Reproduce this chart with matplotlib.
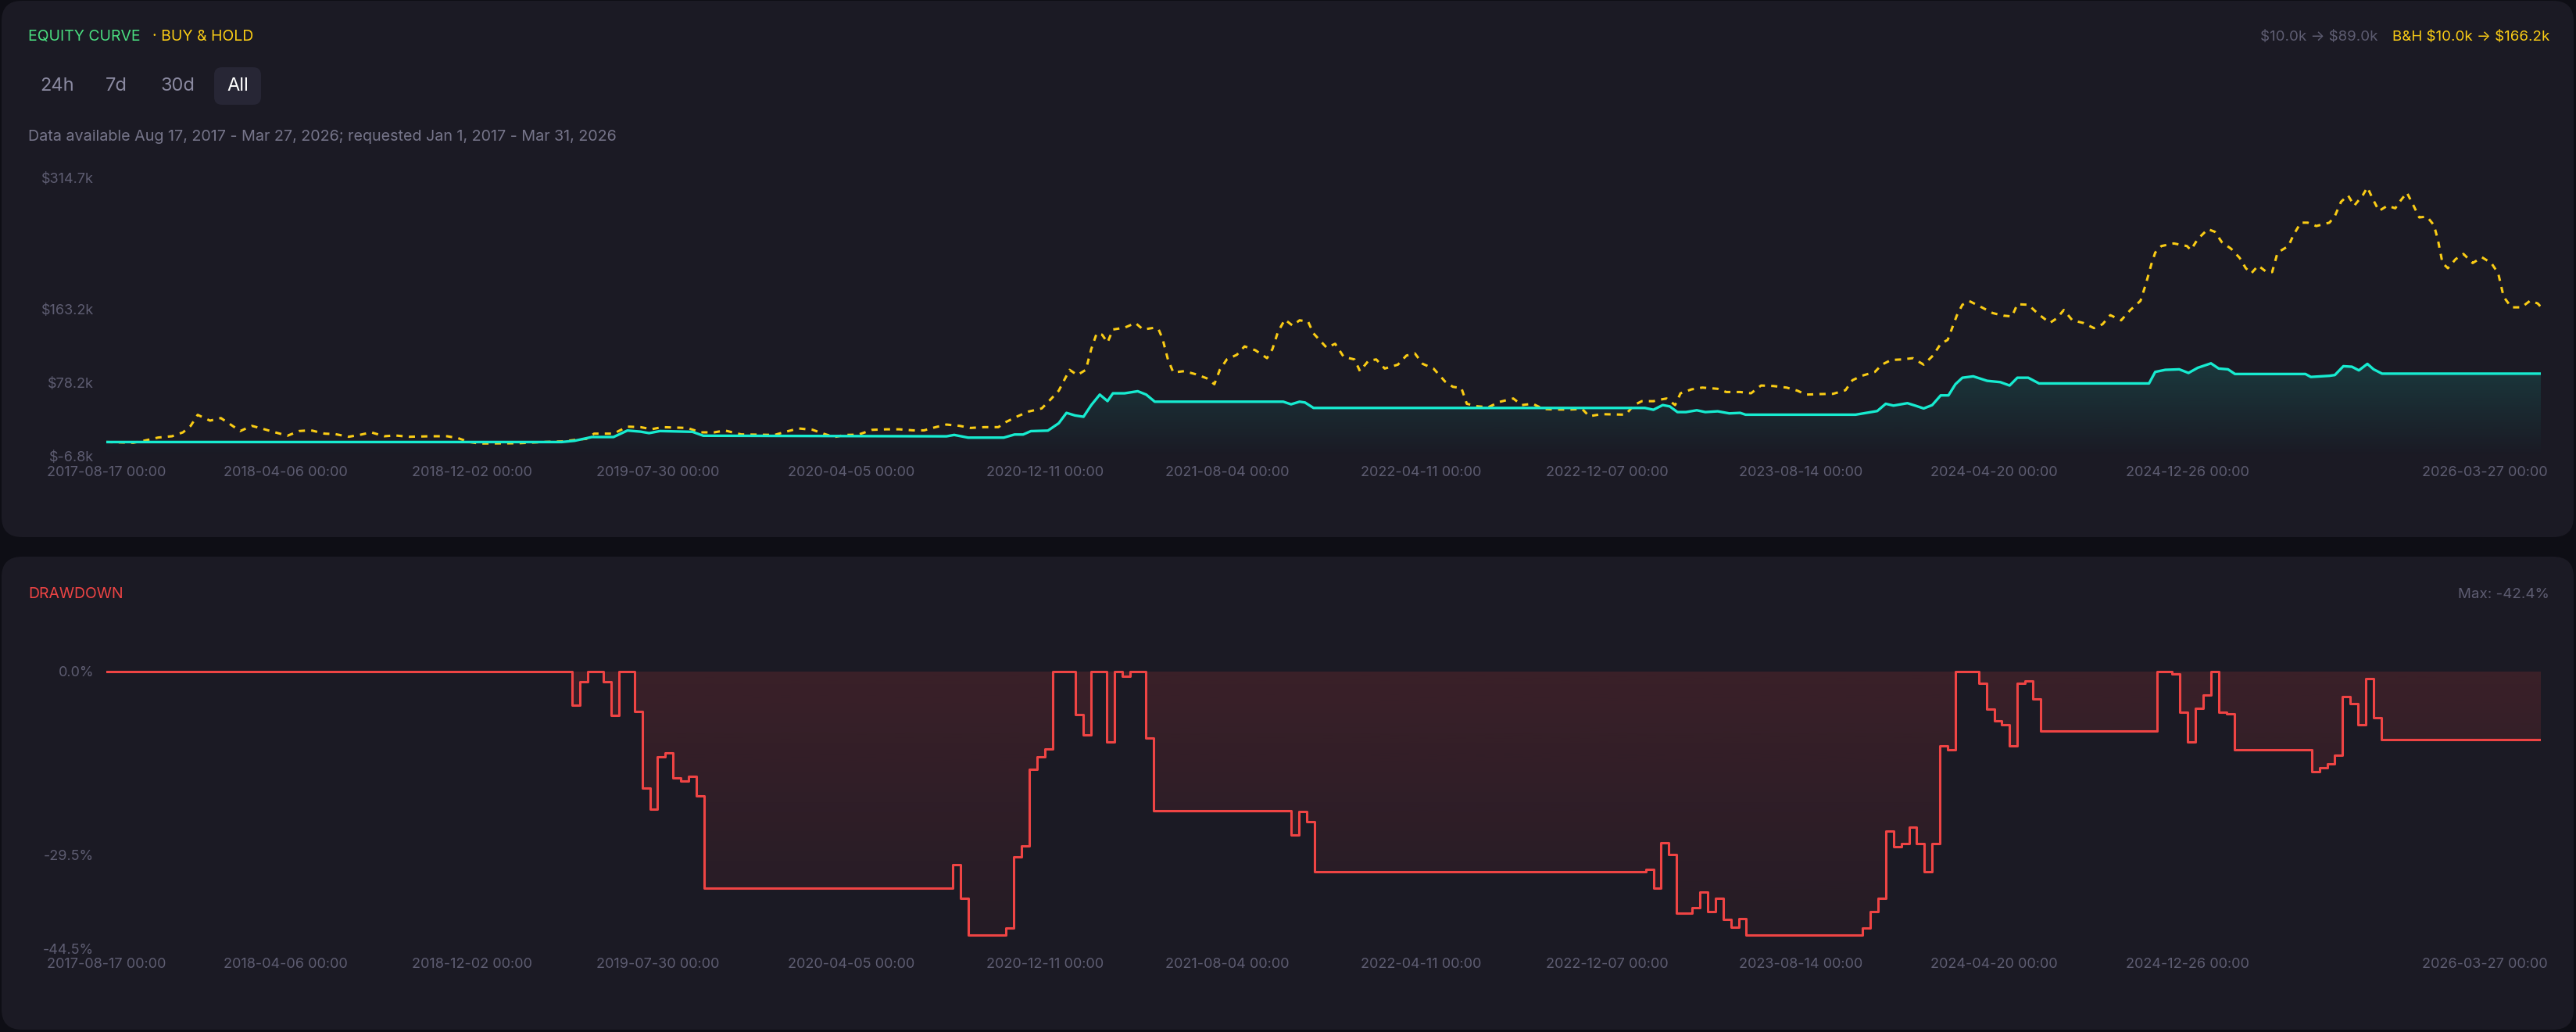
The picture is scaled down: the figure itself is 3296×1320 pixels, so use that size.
import numpy as np
import matplotlib
matplotlib.use("Agg")
import matplotlib.pyplot as plt
import matplotlib.dates as mdates
from matplotlib.patches import FancyBboxPatch
from matplotlib.transforms import IdentityTransform, ScaledTranslation
from matplotlib.colors import to_rgb

plt.rcParams['font.family'] = ['Inter', 'DejaVu Sans']
plt.rcParams['text.parse_math'] = False

# ---- data (days counted from the first available date) ----
start_date = '2017-08-17'
tick_dates = ['2017-08-17', '2018-04-06', '2018-12-02', '2019-07-30', '2020-04-05',
              '2020-12-11', '2021-08-04', '2022-04-11', '2022-12-07', '2023-08-14',
              '2024-04-20', '2024-12-26', '2026-03-27']

eq_days = [0, 588, 605, 627, 655, 673, 690, 701, 715, 757, 771, 1085, 1095, 1113, 1159,
           1173, 1184, 1194, 1216, 1230, 1240, 1251, 1262, 1272, 1283, 1293, 1300, 1315,
           1332, 1343, 1354, 1520, 1530, 1541, 1548, 1559, 1987, 1998, 2010, 2019, 2029,
           2040, 2054, 2065, 2081, 2096, 2110, 2117, 2259, 2273, 2287, 2298, 2308, 2326,
           2337, 2347, 2358, 2369, 2379, 2388, 2397, 2411, 2429, 2446, 2458, 2468, 2482,
           2496, 2638, 2646, 2659, 2677, 2689, 2701, 2718, 2728, 2740, 2749, 2840, 2847,
           2871, 2878, 2889, 2900, 2909, 2920, 2928, 2939, 3144]
eq_vals = [10.0, 10.0, 11.5, 15.8, 15.8, 23.3, 22.0, 20.3, 22.7, 21.8, 17.3, 16.6, 18.2,
           15.1, 15.1, 18.7, 18.7, 22.6, 23.2, 31.7, 43.7, 40.7, 39.2, 52.7, 64.8, 57.3,
           66.3, 66.3, 68.7, 64.8, 56.6, 56.6, 53.6, 56.6, 55.7, 49.4, 49.4, 47.3, 52.7,
           51.2, 44.6, 44.6, 46.7, 44.6, 45.5, 43.1, 43.7, 41.6, 41.6, 43.7, 45.8, 54.2,
           52.1, 54.9, 51.8, 48.8, 52.7, 63.9, 63.9, 76.8, 84.3, 85.9, 80.7, 79.2, 75.3,
           84.3, 84.3, 77.7, 77.7, 91.0, 93.4, 94.0, 89.8, 95.8, 100.9, 94.9, 94.0, 88.6,
           88.6, 85.2, 86.5, 87.4, 97.6, 97.0, 92.8, 100.3, 94.0, 89.0, 89.0]

bh_days = [0, 35, 49, 67, 85, 99, 109, 118, 134, 148, 173, 188, 204, 218, 234, 249, 264,
           282, 296, 313, 327, 342, 359, 373, 391, 419, 440, 454, 468, 482, 532, 567, 588,
           609, 620, 630, 655, 673, 690, 704, 718, 750, 768, 785, 799, 820, 863, 877, 894,
           912, 926, 940, 954, 971, 989, 1007, 1024, 1042, 1056, 1071, 1085, 1102, 1116,
           1134, 1152, 1162, 1177, 1191, 1208, 1219, 1230, 1237, 1244, 1254, 1265, 1272,
           1279, 1286, 1293, 1300, 1315, 1329, 1339, 1354, 1359, 1364, 1371, 1378, 1392,
           1407, 1421, 1431, 1438, 1447, 1460, 1470, 1484, 1499, 1506, 1513, 1522, 1532,
           1541, 1552, 1559, 1576, 1587, 1598, 1612, 1619, 1630, 1640, 1651, 1668, 1679,
           1690, 1700, 1714, 1729, 1739, 1750, 1757, 1771, 1785, 1799, 1817, 1828, 1842,
           1856, 1870, 1891, 1906, 1915, 1931, 1962, 1973, 1983, 1998, 2005, 2015, 2026,
           2033, 2047, 2061, 2081, 2092, 2110, 2124, 2137, 2153, 2170, 2184, 2195, 2213,
           2230, 2246, 2255, 2267, 2284, 2293, 2305, 2319, 2333, 2347, 2359, 2369, 2378,
           2383, 2390, 2397, 2406, 2422, 2436, 2450, 2461, 2468, 2482, 2496, 2510, 2519,
           2528, 2539, 2553, 2567, 2578, 2588, 2602, 2614, 2627, 2634, 2641, 2646, 2654,
           2670, 2687, 2692, 2701, 2714, 2723, 2732, 2744, 2755, 2763, 2770, 2779, 2790,
           2797, 2804, 2818, 2825, 2834, 2843, 2854, 2871, 2878, 2886, 2895, 2903, 2914,
           2920, 2928, 2935, 2946, 2956, 2963, 2971, 2978, 2987, 2997, 3006, 3011, 3017,
           3024, 3034, 3044, 3056, 3068, 3080, 3089, 3096, 3106, 3119, 3130, 3140, 3144]
bh_vals = [10.0, 9.2, 11.6, 15.2, 16.7, 21.2, 28.7, 41.4, 34.7, 37.7, 22.7, 28.7, 24.8,
           21.2, 17.3, 22.7, 23.6, 19.7, 19.1, 16.1, 18.2, 21.2, 16.7, 17.6, 16.1, 16.7,
           16.7, 14.6, 10.1, 8.3, 8.6, 10.1, 10.7, 12.8, 13.7, 19.7, 19.7, 27.8, 27.2,
           24.8, 27.2, 26.3, 21.2, 21.2, 23.3, 18.8, 18.2, 21.8, 25.7, 24.2, 19.7, 15.8,
           18.2, 18.5, 24.1, 24.7, 24.7, 23.5, 23.5, 27.2, 30.2, 28.7, 26.3, 27.2, 27.2,
           33.2, 39.8, 45.2, 48.8, 58.8, 69.3, 81.3, 93.4, 87.4, 93.4, 117.4, 135.5, 134.0,
           125.0, 140.0, 142.1, 147.5, 140.0, 142.1, 140.0, 129.5, 105.4, 90.4, 91.9,
           88.3, 83.7, 76.8, 93.4, 105.4, 110.8, 120.5, 116.0, 106.9, 117.4, 137.0, 151.5,
           144.5, 150.6, 149.1, 135.5, 119.0, 123.5, 108.4, 105.4, 91.9, 103.9, 105.4,
           94.9, 99.4, 109.9, 112.3, 100.3, 94.9, 79.8, 73.8, 72.3, 54.2, 51.2, 50.3,
           56.3, 60.3, 52.7, 54.2, 48.2, 47.6, 47.6, 48.2, 39.8, 42.2, 41.6, 52.7, 57.2,
           57.2, 58.7, 60.3, 52.7, 66.3, 70.8, 72.9, 71.5, 67.8, 67.8, 66.3, 75.3, 74.7,
           72.9, 69.3, 64.8, 65.4, 65.7, 69.9, 81.4, 86.5, 91.0, 99.4, 104.8, 105.4,
           106.9, 99.4, 109.9, 123.5, 128.0, 140.0, 156.6, 168.6, 172.8, 165.6, 159.0,
           156.0, 155.1, 169.2, 168.6, 157.2, 147.6, 153.0, 162.6, 150.6, 147.6, 141.6,
           146.1, 156.6, 150.6, 162.6, 173.1, 192.7, 215.3, 228.8, 236.4, 239.4, 236.4,
           231.8, 244.5, 255.9, 252.9, 240.9, 233.3, 222.8, 210.8, 204.8, 213.8, 206.3,
           206.3, 228.8, 236.4, 249.9, 263.4, 263.4, 259.5, 263.4, 271.0, 287.5, 295.0,
           283.0, 295.0, 304.1, 289.0, 277.0, 283.0, 280.0, 289.0, 298.1, 286.0, 269.5,
           270.4, 260.4, 243.9, 216.8, 210.8, 221.3, 227.3, 216.8, 223.4, 216.8, 204.8,
           177.7, 165.6, 165.6, 173.1, 170.1, 166.2]

dd_days = [0, 602, 612, 622, 642, 652, 662, 682, 692, 702, 712, 722, 732, 742, 752, 762,
           772, 1093, 1103, 1113, 1162, 1172, 1182, 1192, 1202, 1212, 1222, 1252, 1262,
           1272, 1292, 1302, 1312, 1322, 1342, 1352, 1530, 1540, 1550, 1560, 1988, 1998,
           2008, 2018, 2028, 2048, 2058, 2068, 2078, 2088, 2098, 2108, 2118, 2268, 2278,
           2288, 2298, 2308, 2318, 2328, 2338, 2348, 2358, 2368, 2378, 2388, 2418, 2428,
           2438, 2448, 2458, 2468, 2478, 2488, 2498, 2648, 2668, 2678, 2688, 2698, 2708,
           2718, 2728, 2738, 2748, 2848, 2858, 2868, 2878, 2888, 2898, 2908, 2918, 2928,
           2938, 3144]
dd_vals = [0.0, -5.4, -1.6, 0.0, -1.7, -7.1, 0.0, -6.4, -18.8, -22.2, -13.7, -13.1, -17.1,
           -17.6, -16.9, -20.0, -34.8, -31.0, -36.4, -42.4, -41.2, -29.8, -28.1, -15.7,
           -13.7, -12.5, 0.0, -7.0, -10.2, 0.0, -11.3, 0.0, -0.8, 0.0, -10.7, -22.4, -26.3,
           -22.5, -24.2, -32.2, -31.8, -34.8, -27.5, -29.4, -38.9, -38.0, -35.5, -38.6,
           -36.4, -39.9, -41.1, -39.7, -42.4, -41.2, -38.6, -36.4, -25.6, -28.2, -27.7,
           -25.0, -27.7, -32.2, -27.7, -12.0, -12.6, 0.0, -1.9, -6.0, -8.0, -8.6, -12.0,
           -1.9, -1.5, -4.4, -9.6, 0.0, -0.4, -6.5, -11.3, -5.9, -3.8, 0.0, -6.6, -6.8,
           -12.6, -16.1, -15.5, -14.9, -13.5, -4.0, -5.2, -8.6, -1.2, -7.5, -10.9, -10.9]

eq_ticks = [-6.8, 78.2, 163.2, 314.7]
dd_ticks = [0.0, -29.5, -44.5]

# ---- colours ----
BG = '#0e0e15'
CARD = '#1b1a24'
TEAL = '#17ebd0'
YELLOW = '#facc15'
RED = '#ef4444'
GREEN = '#4ade80'
MUTED = '#5e5d72'

W, H = 3296, 1320
fig = plt.figure(figsize=(W / 100, H / 100), dpi=100, facecolor=BG)


def fx(x):
    return x / W


def fy(y):
    return 1 - y / H


def card(top, bottom, left=2, right=3293, r=26, color=CARD):
    fig.patches.append(FancyBboxPatch((left, H - bottom), right - left, bottom - top,
                                      boxstyle="round,pad=0,rounding_size=%d" % r,
                                      transform=IdentityTransform(), facecolor=color,
                                      edgecolor='none', zorder=-5))


card(1, 687)
card(712, 1317)
card(86, 134, left=274, right=334, r=10, color='#272635')

to_dates = lambda d: np.datetime64(start_date) + np.array(d, dtype='timedelta64[D]')
eq_x = to_dates(eq_days)
bh_x = to_dates(bh_days)
dd_x = to_dates(dd_days)
tick_x = np.array(tick_dates, dtype='datetime64[D]')
x0, x1 = tick_x[0], tick_x[-1]


def gradient(ax, poly, y_top, y_bot, color, a_top, a_bot):
    n = 256
    rgba = np.zeros((n, 1, 4))
    rgba[..., :3] = to_rgb(color)
    rgba[:, 0, 3] = np.linspace(a_top, a_bot, n)
    im = ax.imshow(rgba, aspect='auto', origin='upper', zorder=1,
                   extent=[mdates.date2num(x0), mdates.date2num(x1), y_bot, y_top])
    im.set_clip_path(poly.get_paths()[0], transform=ax.transData)


def style(ax, ylo, yhi, ticks, labels):
    ax.set_facecolor('none')
    for s in ax.spines.values():
        s.set_visible(False)
    ax.set_xlim(x0, x1)
    ax.set_ylim(ylo, yhi)
    ax.set_yticks(ticks)
    ax.set_yticklabels(labels)
    ax.set_xticks(tick_x)
    ax.set_xticklabels([t + ' 00:00' for t in tick_dates])
    ax.tick_params(length=0, colors=MUTED, labelsize=13)
    ax.tick_params(axis='y', pad=11.5)
    ax.tick_params(axis='x', pad=8.5)
    last = ax.get_xticklabels()[-1]
    last.set_horizontalalignment('right')
    last.set_transform(last.get_transform() + ScaledTranslation(0.09, 0, fig.dpi_scale_trans))


# ---- equity curve ----
ax1 = fig.add_axes([fx(136), fy(584), fx(3251 - 136), (584 - 228) / H])
poly = ax1.fill_between(eq_x, eq_vals, eq_ticks[0], facecolor='none', edgecolor='none')
gradient(ax1, poly, max(eq_vals), eq_ticks[0], TEAL, 0.15, 0.0)
ax1.plot(bh_x, bh_vals, color=YELLOW, lw=2.2, dashes=(2.6, 2.6), zorder=3)
ax1.plot(eq_x, eq_vals, color=TEAL, lw=2.4, zorder=4)
style(ax1, eq_ticks[0], eq_ticks[-1], eq_ticks, ['$%.1fk' % v for v in eq_ticks])

# ---- drawdown ----
ax2 = fig.add_axes([fx(136), fy(1213), fx(3251 - 136), (1213 - 854) / H])
poly = ax2.fill_between(dd_x, dd_vals, 0, step='post', facecolor='none', edgecolor='none')
gradient(ax2, poly, 0, dd_ticks[-1], RED, 0.15, 0.04)
ax2.step(dd_x, dd_vals, where='post', color=RED, lw=2.2, zorder=4)
style(ax2, dd_ticks[-1], 0.6, dd_ticks, ['%.1f%%' % v for v in dd_ticks])

# ---- header texts ----
fig.text(fx(36), fy(47), 'EQUITY CURVE', color=GREEN, fontsize=14, va='center')
fig.text(fx(195), fy(47), '\u00b7 BUY & HOLD', color=YELLOW, fontsize=14, va='center')
fig.text(fx(3262), fy(47), 'B&H $10.0k \u2192 $166.2k', color=YELLOW, fontsize=13.5,
         va='center', ha='right')
fig.text(fx(3043), fy(47), '$10.0k \u2192 $89.0k', color=MUTED, fontsize=13.5,
         va='center', ha='right')
for lbl, xc in zip(['24h', '7d', '30d', 'All'], [73, 149, 227, 304]):
    fig.text(fx(xc), fy(110), lbl, fontsize=17, va='center', ha='center',
             color='white' if lbl == 'All' else '#8a89a0')
fig.text(fx(36), fy(175), 'Data available Aug 17, 2017 - Mar 27, 2026; requested '
         'Jan 1, 2017 - Mar 31, 2026', color='#76758a', fontsize=14.2, va='center')
fig.text(fx(36), fy(760), 'DRAWDOWN', color=RED, fontsize=14, va='center')
fig.text(fx(3262), fy(760), 'Max: -42.4%', color=MUTED, fontsize=13.5, va='center',
         ha='right')

fig.savefig('out.png', dpi=100, facecolor=BG)
